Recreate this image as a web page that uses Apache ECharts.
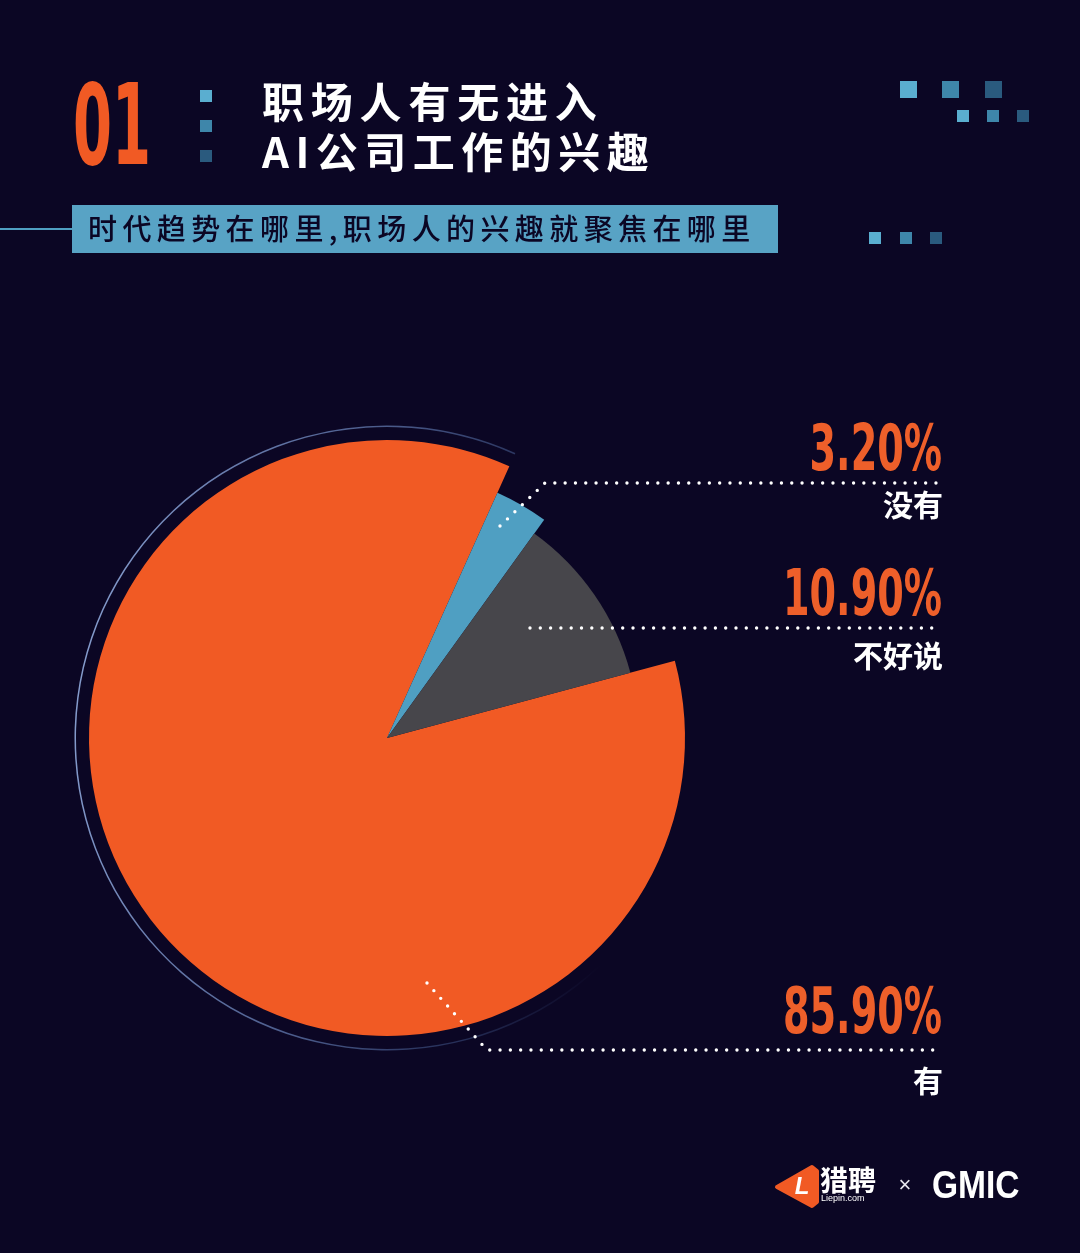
<!DOCTYPE html>
<html>
<head>
<meta charset="utf-8">
<script src="https://cdn.jsdelivr.net/npm/echarts@6/dist/echarts.min.js"></script>
<style>
  html, body { margin: 0; padding: 0; background: #0b0624; }
  #main { width: 1080px; height: 1253px; }
</style>
</head>
<body>
<div id="main"></div>
<script>
// chart data
const categories = ['有', '没有', '不好说'];
const values = [85.9, 3.2, 10.9];
const sliceColors = ['#f15a24', '#4f9fc2', '#47464b'];

const titleLines = ['职场人有无进入', 'AI公司工作的兴趣'];
const subTitle = '时代趋势在哪里,职场人的兴趣就聚焦在哪里';
const chapterNo = '01';

// layout (not data)
const CENTER = [387, 738];
const RADII = [298, 269, 252];
const labelSpots = [
    { pctY: 1016, nameY: 1081, line: [[427, 983], [487, 1050], [942, 1050]] },
    { pctY: 453, nameY: 505, line: [[500, 526], [545, 483], [942, 483]] },
    { pctY: 598, nameY: 656, line: [[530, 628], [531, 628], [942, 628]] }
];

const BG = '#0b0624';
const ORANGE = '#f15a24';
const cjk = '"Noto Sans CJK SC", "Noto Sans", sans-serif';
const narrow = '"Liberation Sans Narrow", "DejaVu Sans Condensed", "Liberation Sans", sans-serif';

const measureCtx = document.createElement('canvas').getContext('2d');
function textWidth(str, font) {
    measureCtx.font = font;
    return measureCtx.measureText(str).width;
}

// text laid out char by char so we get the wide letter spacing of the poster
function spacedText(str, x, y, font, fill, spacing) {
    let els = [];
    let cx = x;
    for (let ch of str) {
        els.push({
            type: 'text', x: cx, y: y, silent: true,
            style: { text: ch, font: font, fill: fill, align: 'left', verticalAlign: 'middle', textAlign: 'left', textVerticalAlign: 'middle' }
        });
        cx += textWidth(ch, font) + spacing;
    }
    return els;
}

function layerSeries(idx) {
    return {
        type: 'pie',
        center: CENTER,
        radius: RADII[idx],
        startAngle: 15,
        clockwise: true,
        silent: true,
        animation: false,
        z: 2,
        label: { show: false },
        labelLine: { show: false },
        itemStyle: { borderWidth: 0 },
        data: categories.map((name, i) => ({
            name: name,
            value: values[i],
            itemStyle: { color: i === idx ? sliceColors[idx] : 'rgba(0,0,0,0)' }
        }))
    };
}

let ringSeries = {
    type: 'pie',
    center: CENTER,
    radius: [311, 312.5],
    startAngle: 15,
    silent: true,
    animation: false,
    z: 1,
    label: { show: false },
    labelLine: { show: false },
    itemStyle: { borderWidth: 0 },
    data: categories.map((name, i) => ({
        name: name,
        value: values[i],
        itemStyle: {
            color: i === 0 ? {
                type: 'linear', x: 0, y: 0, x2: 1, y2: 0.15,
                colorStops: [
                    { offset: 0, color: 'rgba(150,175,225,0.95)' },
                    { offset: 0.5, color: 'rgba(100,125,180,0.7)' },
                    { offset: 0.75, color: 'rgba(70,95,150,0.45)' },
                    { offset: 0.95, color: 'rgba(60,80,130,0.0)' }
                ]
            } : 'rgba(0,0,0,0)'
        }
    }))
};

let labelSeries = {
    type: 'pie',
    center: CENTER,
    radius: RADII[0],
    startAngle: 15,
    silent: true,
    animation: false,
    z: 10,
    itemStyle: { color: 'rgba(0,0,0,0)', borderWidth: 0 },
    label: {
        show: true,
        position: 'outside',
        formatter: '{b}',
        color: '#ffffff',
        fontSize: 30,
        fontWeight: 'bold',
        fontFamily: cjk
    },
    labelLine: {
        show: true,
        lineStyle: { color: '#ffffff', width: 3.4, type: [0, 10.3], cap: 'round' }
    },
    labelLayout: function (p) {
        let s = labelSpots[p.dataIndex];
        return { x: 943, y: s.nameY, align: 'right', verticalAlign: 'middle', labelLinePoints: s.line };
    },
    data: categories.map((name, i) => ({ name: name, value: values[i] }))
};

// percentages in a condensed look
const pctFont = 'bold 64px ' + narrow;
const pctScale = 159 / textWidth('10.90%', pctFont);
let pctTexts = values.map((v, i) => ({
    type: 'text', x: 942, y: labelSpots[i].pctY, scaleX: pctScale, silent: true, z: 20,
    style: {
        text: v.toFixed(2) + '%', font: pctFont, fill: '#ee5f2a',
        align: 'right', verticalAlign: 'middle', textAlign: 'right', textVerticalAlign: 'middle'
    }
}));

const noFont = 'bold 112px ' + narrow;
const noScale = 78 / textWidth(chapterNo, noFont);

let squares = [
    // beside the chapter number
    [200, 90, 12, '#5aaed0'], [200, 120, 12, '#3e86aa'], [200, 150, 12, '#2a5a7e'],
    // top right
    [900, 81, 17, '#5aaed0'], [942, 81, 17, '#3e86aa'], [985, 81, 17, '#2a5a7e'],
    [957, 110, 12, '#5aaed0'], [987, 110, 12, '#3e86aa'], [1017, 110, 12, '#2a5a7e'],
    [869, 232, 12, '#5aaed0'], [900, 232, 12, '#3e86aa'], [930, 232, 12, '#2a5a7e']
].map(s => ({ type: 'rect', silent: true, shape: { x: s[0], y: s[1], width: s[2], height: s[2] }, style: { fill: s[3] } }));

let header = [
    {
        type: 'text', x: 73, y: 135, scaleX: noScale, silent: true,
        style: { text: chapterNo, font: noFont, fill: ORANGE, align: 'left', verticalAlign: 'middle', textAlign: 'left', textVerticalAlign: 'middle' }
    },
    { type: 'line', silent: true, shape: { x1: 0, y1: 229, x2: 72, y2: 229 }, style: { stroke: '#4f9fc2', lineWidth: 2 } },
    { type: 'rect', silent: true, shape: { x: 72, y: 205, width: 706, height: 48 }, style: { fill: '#58a3c5' } }
]
    .concat(spacedText(titleLines[0], 262, 102, 'bold 42px ' + cjk, '#ffffff', 6.8))
    .concat(spacedText(titleLines[1], 262, 152, 'bold 42px ' + cjk, '#ffffff', 6.5))
    .concat(spacedText(subTitle, 88, 229, '500 29px ' + cjk, '#0b0624', 5.4));

let footer = [
    {
        type: 'polygon', silent: true,
        shape: { points: [[777, 1187], [812, 1167], [817, 1171], [817, 1202], [812, 1206]] },
        style: { fill: ORANGE, stroke: ORANGE, lineWidth: 4, lineJoin: 'round' }
    },
    {
        type: 'text', x: 802, y: 1187, silent: true,
        style: { text: 'L', font: 'italic bold 24px "Liberation Sans", sans-serif', fill: '#ffffff', align: 'center', verticalAlign: 'middle', textAlign: 'center', textVerticalAlign: 'middle' }
    },
    {
        type: 'text', x: 820, y: 1180, silent: true,
        style: { text: '猎聘', font: 'bold 28px ' + cjk, fill: '#ffffff', align: 'left', verticalAlign: 'middle', textAlign: 'left', textVerticalAlign: 'middle' }
    },
    {
        type: 'text', x: 821, y: 1199, silent: true,
        style: { text: 'Liepin.com', font: '9px "Liberation Sans", sans-serif', fill: '#ffffff', align: 'left', verticalAlign: 'middle', textAlign: 'left', textVerticalAlign: 'middle' }
    },
    {
        type: 'text', x: 905, y: 1186, silent: true,
        style: { text: '×', font: '22px "Liberation Sans", sans-serif', fill: '#e8e8f0', align: 'center', verticalAlign: 'middle', textAlign: 'center', textVerticalAlign: 'middle' }
    },
    {
        type: 'text', x: 932, y: 1187, scaleX: 0.86, silent: true,
        style: { text: 'GMIC', font: 'bold 39px "Liberation Sans", sans-serif', fill: '#ffffff', align: 'left', verticalAlign: 'middle', textAlign: 'left', textVerticalAlign: 'middle' }
    }
];

let chart = echarts.init(document.getElementById('main'));
chart.setOption({
    backgroundColor: BG,
    animation: false,
    series: [ringSeries, layerSeries(0), layerSeries(1), layerSeries(2), labelSeries],
    graphic: { elements: header.concat(squares, pctTexts, footer) }
});
</script>
</body>
</html>
